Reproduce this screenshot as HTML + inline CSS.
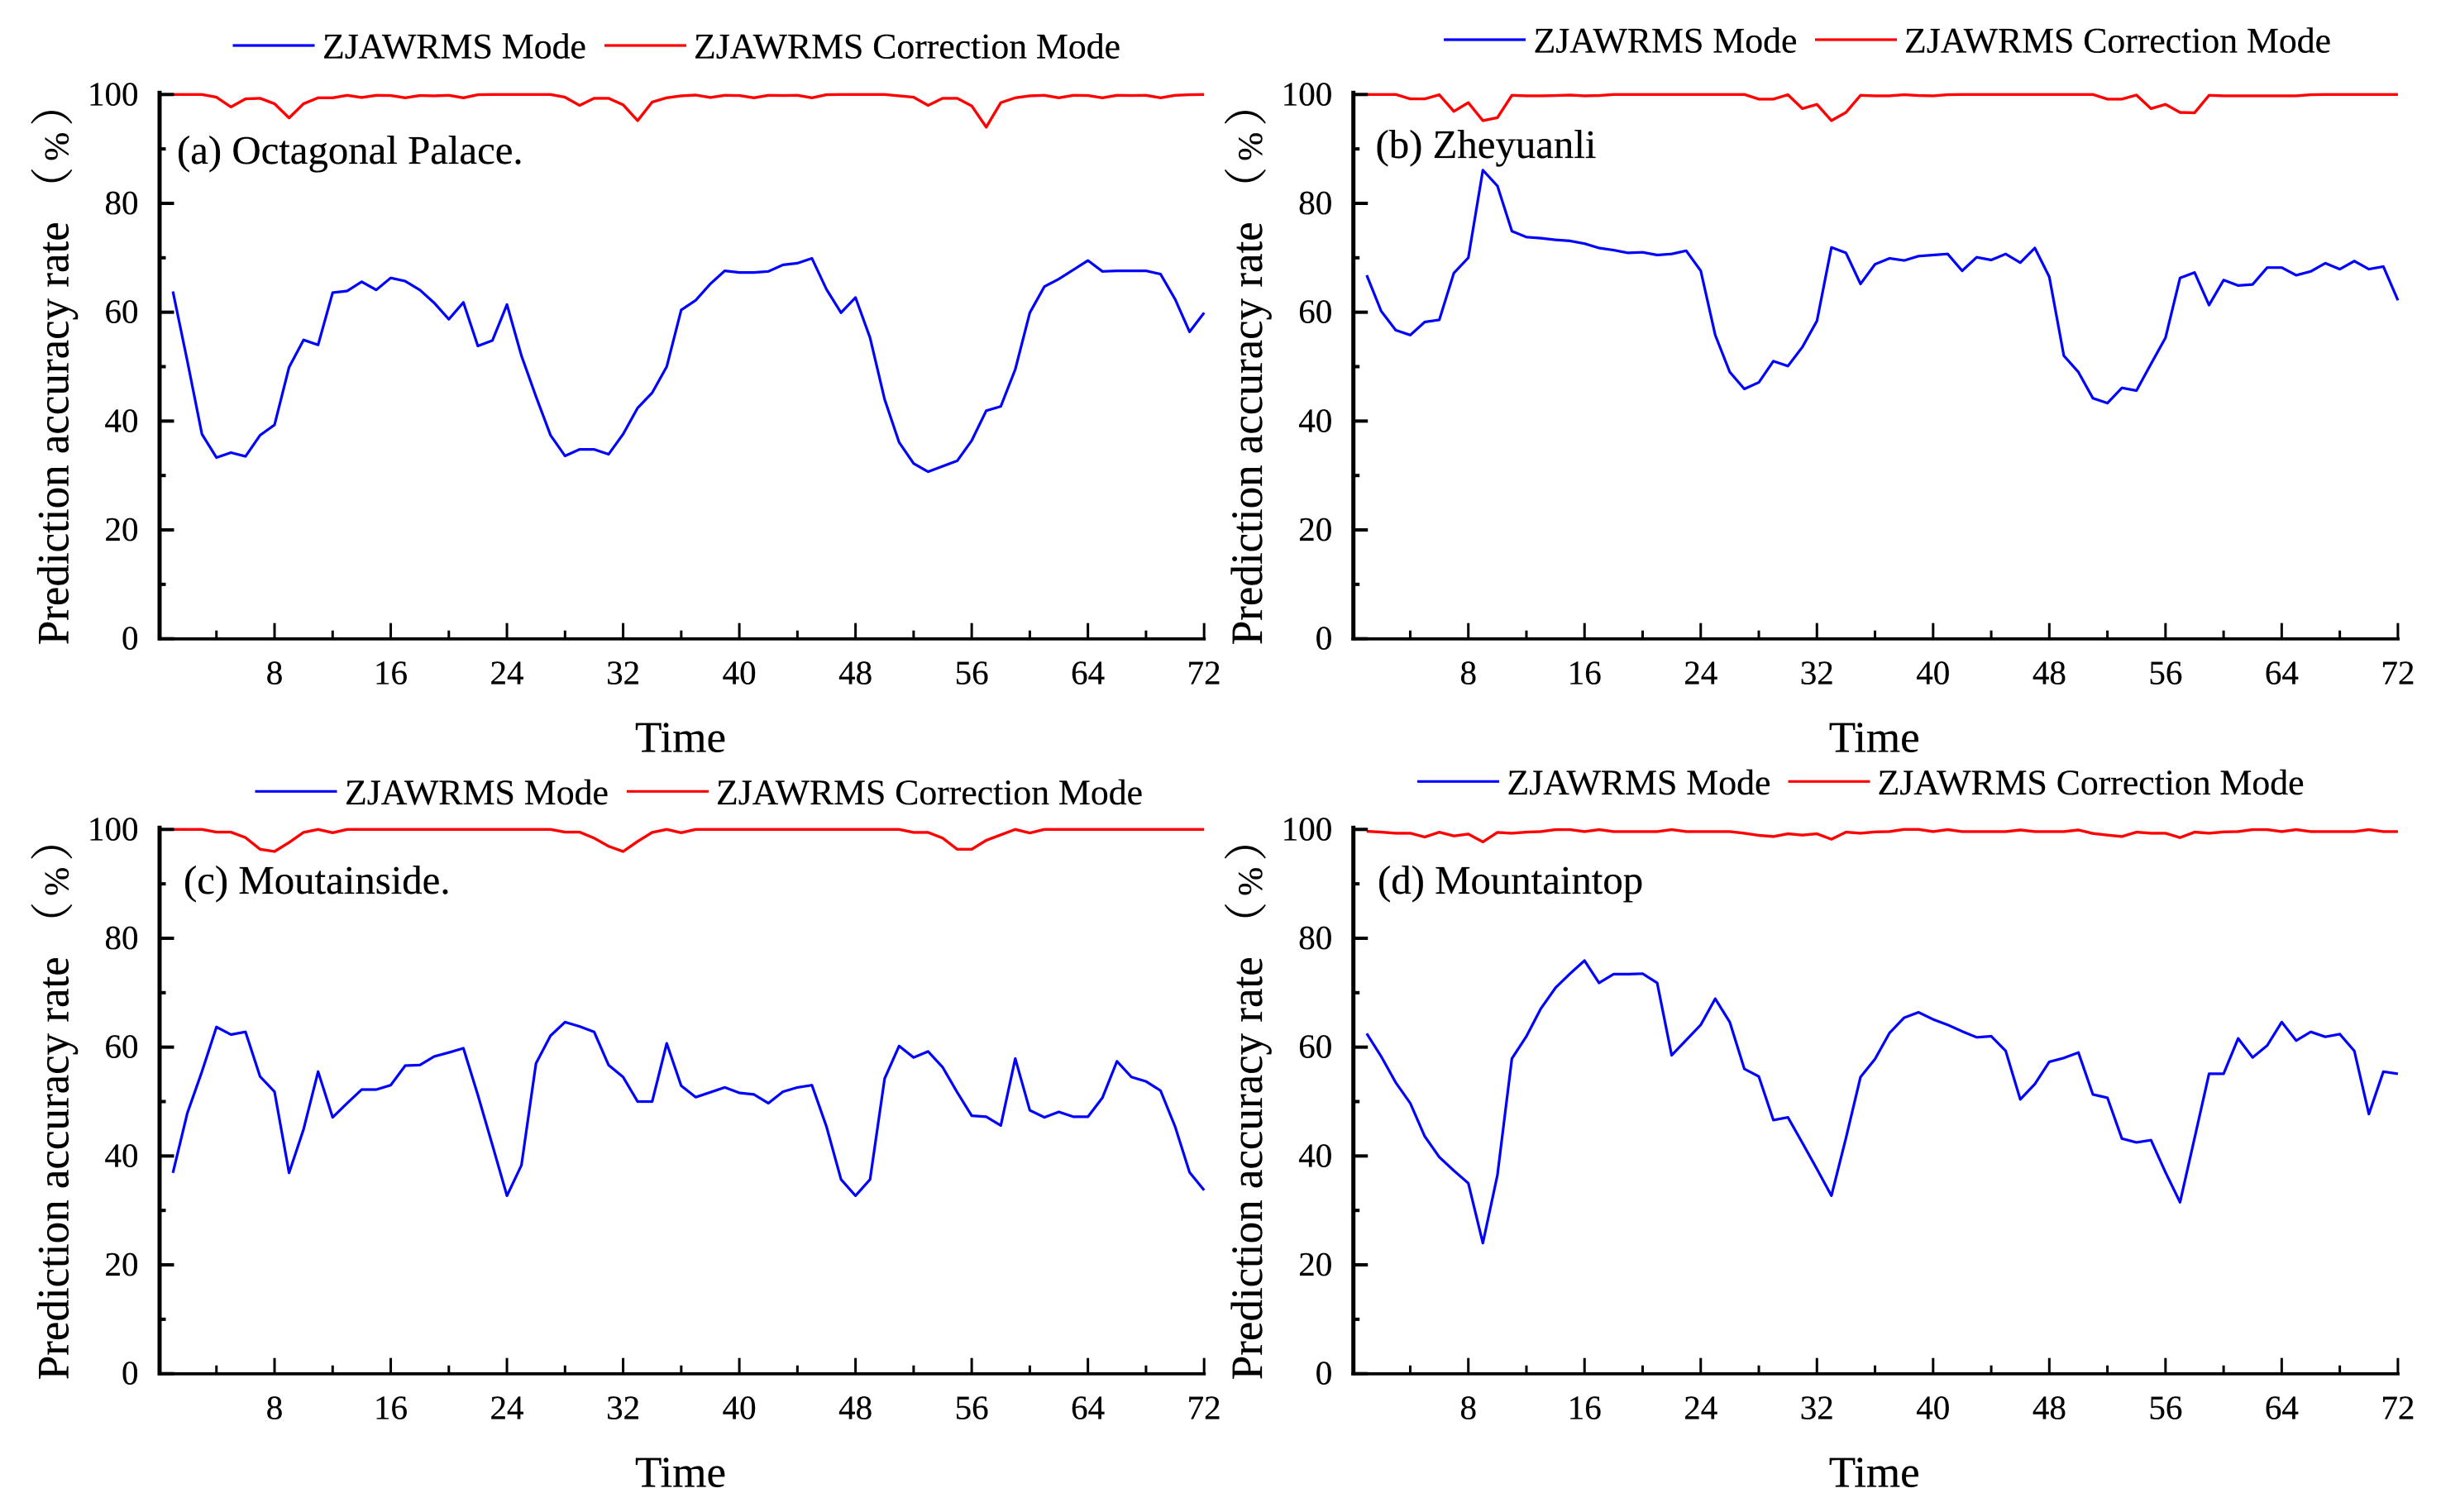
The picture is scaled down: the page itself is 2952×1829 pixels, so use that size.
<!DOCTYPE html>
<html lang="en">
<head>
<meta charset="utf-8">
<title>Prediction accuracy rate by site</title>
<style>
  html, body { margin: 0; padding: 0; background: #fff; }
  body { width: 2952px; height: 1829px; overflow: hidden; }
  svg { display: block; }
  text { font-family: "Liberation Serif", "Noto Serif CJK SC", serif; fill: #000; stroke: #000; stroke-width: 0.25px; text-rendering: geometricPrecision; }
</style>
</head>
<body>
<svg id="chart" xmlns="http://www.w3.org/2000/svg" width="2952" height="1829" viewBox="0 0 2952 1829">
  <rect x="0" y="0" width="2952" height="1829" fill="#ffffff"/>
</svg>
<script>
const xTickLabels = [8, 16, 24, 32, 40, 48, 56, 64, 72];
const xMinorTicks = [4, 12, 20, 28, 36, 44, 52, 60, 68];
const yTickLabels = [0, 20, 40, 60, 80, 100];
const yMinorTicks = [10, 30, 50, 70, 90];
const seriesNames = ['ZJAWRMS Mode', 'ZJAWRMS Correction Mode'];
const panelTitles = ['(a) Octagonal Palace.', '(b) Zheyuanli', '(c) Moutainside.', '(d) Mountaintop'];
const xAxisTitle = 'Time';
const yAxisTitle = 'Prediction accuracy rate';
const yAxisUnit = ['（', '%', '）'];

const blueA = [63.8,51,37.6,33.3,34.2,33.5,37.4,39.3,49.9,54.9,54,63.6,63.9,65.6,64.1,66.3,65.7,64.1,61.7,58.7,61.8,53.8,54.8,61.4,52,44.5,37.4,33.6,34.8,34.8,33.9,37.6,42.4,45.2,50,60.4,62.2,65.2,67.6,67.3,67.3,67.5,68.7,69,69.9,64.2,59.9,62.7,55.3,44,36.1,32.2,30.7,31.7,32.7,36.4,41.9,42.7,49.5,59.9,64.7,66.1,67.8,69.5,67.5,67.6,67.6,67.6,67,62.4,56.4,59.9];
const redA = [100,100,100,99.5,97.7,99.2,99.3,98.3,95.7,98.3,99.4,99.4,99.85,99.45,99.85,99.8,99.4,99.8,99.75,99.85,99.4,99.95,100,100,100,100,100,99.5,98,99.3,99.3,98.1,95.2,98.6,99.4,99.75,99.9,99.45,99.85,99.8,99.4,99.85,99.8,99.85,99.4,99.95,100,100,100,100,99.75,99.5,98,99.3,99.3,97.9,94,98.5,99.4,99.75,99.85,99.4,99.85,99.8,99.4,99.85,99.8,99.85,99.4,99.85,99.95,100];

const blueB = [66.8,60.2,56.7,55.8,58.2,58.6,67.2,70,86.1,83.2,74.9,73.8,73.6,73.3,73.1,72.6,71.8,71.4,70.9,71,70.5,70.7,71.3,67.6,55.8,49,45.9,47.1,51,50.1,53.6,58.4,71.9,70.9,65.2,68.8,69.9,69.5,70.3,70.5,70.7,67.6,70.1,69.6,70.7,69.1,71.8,66.5,52,49,44.2,43.3,46.1,45.6,50.5,55.3,66.3,67.3,61.3,65.9,64.9,65.1,68.2,68.2,66.8,67.5,69,67.9,69.4,67.9,68.4,62.2];
const redB = [100,100,100,99.2,99.2,99.95,96.9,98.5,95.2,95.75,99.85,99.75,99.75,99.8,99.9,99.75,99.8,100,100,100,100,100,100,100,100,100,100,99.15,99.15,99.95,97.4,98.2,95.2,96.7,99.85,99.75,99.75,99.95,99.8,99.75,99.95,100,100,100,100,100,100,100,100,100,100,99.15,99.15,99.9,97.4,98.2,96.7,96.65,99.85,99.75,99.75,99.75,99.75,99.75,99.75,99.95,100,100,100,100,100,100];

const blueC = [36.9,47.9,55.5,63.7,62.3,62.8,54.6,51.8,36.9,44.9,55.5,47.1,49.7,52.2,52.2,53,56.6,56.7,58.3,59,59.8,51.2,42,32.7,38.3,57,62.1,64.6,63.8,62.8,56.7,54.5,50,50,60.7,52.9,50.8,51.7,52.6,51.6,51.3,49.7,51.8,52.6,53,45.4,35.7,32.7,35.7,54.2,60.2,58.1,59.2,56.3,51.7,47.4,47.2,45.6,57.9,48.4,47.1,48.1,47.2,47.2,50.7,57.4,54.5,53.7,52,45.4,37,33.7];
const redC = [100,100,100,99.5,99.5,98.5,96.35,95.95,97.6,99.45,100,99.4,100,100,100,100,100,100,100,100,100,100,100,100,100,100,100,99.5,99.5,98.4,96.9,95.95,97.8,99.45,100,99.4,100,100,100,100,100,100,100,100,100,100,100,100,100,100,100,99.45,99.45,98.4,96.35,96.35,98,99,100,99.35,100,100,100,100,100,100,100,100,100,100,100,100];

const blueD = [62.5,58.3,53.5,49.7,43.6,39.8,37.3,35,24,36.5,57.9,62,67.1,70.9,73.5,75.9,71.8,73.4,73.4,73.5,71.8,58.5,61.3,64.1,68.9,64.6,56,54.6,46.6,47.1,42.4,37.6,32.7,43.3,54.5,57.8,62.6,65.4,66.4,65.1,64.1,62.9,61.8,62,59.3,50.4,53.2,57.3,58,59,51.3,50.7,43.2,42.5,42.9,37,31.5,43.3,55.1,55.1,61.6,58.1,60.3,64.6,61.2,62.8,61.9,62.4,59.3,47.7,55.5,55.1];
const redD = [99.65,99.5,99.3,99.3,98.6,99.5,98.8,99.15,97.7,99.45,99.3,99.5,99.6,99.95,99.95,99.6,99.95,99.6,99.6,99.6,99.6,99.95,99.6,99.6,99.6,99.6,99.3,98.9,98.7,99.2,98.95,99.2,98.2,99.5,99.3,99.55,99.6,100,100,99.6,99.95,99.6,99.6,99.6,99.6,99.9,99.6,99.6,99.6,99.9,99.25,98.95,98.7,99.5,99.3,99.3,98.5,99.5,99.3,99.55,99.6,99.95,99.95,99.6,99.95,99.6,99.6,99.6,99.6,99.95,99.6,99.6];

const svgNS = 'http://www.w3.org/2000/svg';
const root = document.getElementById('chart');
const X_UNIT = 17.565;
const Y_UNIT = 6.584;

function add(parent, tag, attrs, content) {
  const el = document.createElementNS(svgNS, tag);
  for (const k in attrs) el.setAttribute(k, attrs[k]);
  if (content !== undefined) el.textContent = content;
  parent.appendChild(el);
  return el;
}

function drawPanel(p) {
  const xScale = t => p.x0 + t * X_UNIT;
  const yScale = v => p.y0 - v * Y_UNIT;

  const g = add(root, 'g', {});
  
  

  // Series first so axes sit on top
  const bluePts = p.blue.map((v, i) => xScale(i + 1).toFixed(1) + ',' + yScale(v).toFixed(1)).join(' ');
  const blueLine = add(g, 'polyline', { points: bluePts, fill: 'none', stroke: '#0000ff', 'stroke-width': 3.2, 'stroke-linejoin': 'round' });
  
  

  const redPts = p.red.map((v, i) => xScale(i + 1).toFixed(1) + ',' + yScale(v).toFixed(1)).join(' ');
  const redLine = add(g, 'polyline', { points: redPts, fill: 'none', stroke: '#ff0000', 'stroke-width': 3.4, 'stroke-linejoin': 'round' });
  
  

  // Axis lines
  const yAxis = add(g, 'rect', { x: p.x0 - 1, y: yScale(100) - 4.5, width: 5, height: p.y0 - yScale(100) + 6.5, fill: '#000' });
  
  

  const xAxis = add(g, 'rect', { x: p.x0 - 1, y: p.y0 - 1.8, width: xScale(72) - p.x0 + 3, height: 3.8, fill: '#000' });
  
  

  // Y ticks
  yTickLabels.forEach(v => {
    const tick = add(g, 'rect', { x: p.x0 + 1, y: yScale(v) - 2, width: 18, height: 4, fill: '#000' });
    
    
    const label = add(g, 'text', { x: p.x0 - 24, y: yScale(v) + 13, 'text-anchor': 'end', 'font-size': 41 }, String(v));
    
    
  });
  yMinorTicks.forEach(v => {
    const tick = add(g, 'rect', { x: p.x0 + 1, y: yScale(v) - 2, width: 8, height: 4, fill: '#000' });
    
    
  });

  // X ticks
  xTickLabels.forEach(t => {
    const tick = add(g, 'rect', { x: xScale(t) - 1.5, y: p.y0 - 19, width: 3, height: 18, fill: '#000' });
    
    
    const label = add(g, 'text', { x: xScale(t), y: p.y0 + 55, 'text-anchor': 'middle', 'font-size': 41 }, String(t));
    
    
  });
  xMinorTicks.forEach(t => {
    const tick = add(g, 'rect', { x: xScale(t) - 1.5, y: p.y0 - 10, width: 3, height: 9, fill: '#000' });
    
    
  });

  // Axis titles
  const xTitle = add(g, 'text', { x: p.x0 + 631.5, y: p.y0 + 137, 'text-anchor': 'middle', 'font-size': 53 }, xAxisTitle);
  
  

  const yTitleY = p.y0 + 7.5;
  const yTitle = add(g, 'text', { x: 0, y: 0, 'font-size': 54, textLength: 512, lengthAdjust: 'spacingAndGlyphs', transform: 'translate(' + (p.x0 - 109) + ',' + yTitleY + ') rotate(-90)' }, yAxisTitle);
  
  

  const yUnit = add(g, 'text', { x: 0, y: 0, 'font-size': 53, transform: 'translate(' + (p.x0 - 109) + ',' + (yScale(100) + 140.5) + ') rotate(-90)' });
  
  
  add(yUnit, 'tspan', {}, yAxisUnit[0]);
  add(yUnit, 'tspan', { dx: 7, 'font-size': 42 }, yAxisUnit[1]);
  add(yUnit, 'tspan', { dx: 7 }, yAxisUnit[2]);

  // Panel title
  const title = add(g, 'text', { x: p.titleX, y: p.titleY, 'font-size': 48.8 }, p.title);
  
  

  // Legend
  const legendBlue = add(g, 'line', { x1: p.lx1, x2: p.lx1 + 99, y1: p.ly, y2: p.ly, stroke: '#0000ff', 'stroke-width': 3.2 });
  
  

  const legendBlueText = add(g, 'text', { x: p.lx1 + 108.5, y: p.ly + 15.5, 'font-size': 43.5, textLength: 319, lengthAdjust: 'spacingAndGlyphs' }, seriesNames[0]);
  
  

  const legendRed = add(g, 'line', { x1: p.lx2, x2: p.lx2 + 99, y1: p.ly, y2: p.ly, stroke: '#ff0000', 'stroke-width': 3.2 });
  
  

  const legendRedText = add(g, 'text', { x: p.lx2 + 108, y: p.ly + 15.5, 'font-size': 43.5, textLength: 516, lengthAdjust: 'spacingAndGlyphs' }, seriesNames[1]);
  
  
}

drawPanel({ key: 'a', title: panelTitles[0], blue: blueA, red: redA, x0: 191.5, y0: 772.7, titleX: 214, titleY: 198, lx1: 281.5, lx2: 731, ly: 55 });
drawPanel({ key: 'b', title: panelTitles[1], blue: blueB, red: redB, x0: 1635.2, y0: 772.7, titleX: 1663.5, titleY: 191, lx1: 1746, lx2: 2195, ly: 48 });
drawPanel({ key: 'c', title: panelTitles[2], blue: blueC, red: redC, x0: 191.5, y0: 1661.7, titleX: 222, titleY: 1081, lx1: 308.5, lx2: 758, ly: 957.3 });
drawPanel({ key: 'd', title: panelTitles[3], blue: blueD, red: redD, x0: 1635.2, y0: 1661.7, titleX: 1666, titleY: 1081, lx1: 1714, lx2: 2162.5, ly: 945.3 });
</script>
</body>
</html>
